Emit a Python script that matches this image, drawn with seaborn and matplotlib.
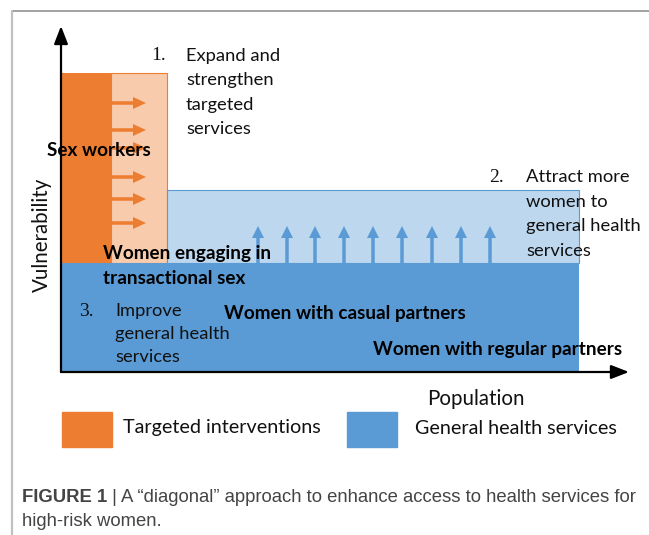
import matplotlib
matplotlib.use("Agg")
import matplotlib.pyplot as plt
import seaborn as sns
from matplotlib.patches import FancyArrow

sns.set_theme(style="white")
plt.rcParams['font.family'] = ['Lato', 'DejaVu Sans']

# ---- data (diagram units: 1 unit ~ 1 px from the axes origin) ----
block_names = ["Sex workers", "Transactional sex", "Casual partners", "All women"]
block_left = [1, 50, 106, 1]
block_width = [49, 56, 412, 517]
block_bottom = [109, 109, 109, 0]
block_height = [190, 190, 73, 109]
block_colors = ["#ED7D31", "#F8CBAD", "#BDD7EE", "#5B9BD5"]

orange_arrow_levels = [269, 242, 224, 195, 173, 149]
blue_arrow_positions = [197, 226, 254, 283, 312, 341, 371, 400, 429]

legend_labels = ["Targeted interventions", "General health services"]
legend_colors = ["#ED7D31", "#5B9BD5"]

W, H = 649, 535
fig = plt.figure(figsize=(W / 100, H / 100), dpi=100)
fig.patch.set_facecolor("white")

# frame lines in figure pixel coords
fig.add_artist(plt.Line2D([12 / W, 1], [1 - 11 / H, 1 - 11 / H], color="#9a9a9a", lw=1.3))
fig.add_artist(plt.Line2D([12 / W, 12 / W], [0, 1 - 11 / H], color="#c0c0c0", lw=1.6))

x0, y0 = 61, 372
ax = fig.add_axes([x0 / W, (H - y0) / H, (628 - x0) / W, (y0 - 28) / H])
ax.set_xlim(0, 628 - x0)
ax.set_ylim(0, y0 - 28)
ax.axis("off")

for l, w, b, h, c in zip(block_left, block_width, block_bottom, block_height, block_colors):
    ec = {"#F8CBAD": "#ED7D31", "#BDD7EE": "#5B9BD5"}.get(c, c)
    ax.bar(l, h, width=w, bottom=b, align="edge", color=c, edgecolor=ec,
           linewidth=0.8 if ec != c else 0, zorder=1)
# redraw the dark orange on top of the light-orange edge
ax.bar(block_left[0], block_height[0], width=block_width[0], bottom=block_bottom[0],
       align="edge", color=block_colors[0], linewidth=0, zorder=1.5)

for yv in orange_arrow_levels:
    ax.add_patch(FancyArrow(50, yv, 35, 0, width=3.5, head_width=12, head_length=13,
                            length_includes_head=True, color="#ED7D31", lw=0, zorder=2))
for xv in blue_arrow_positions:
    ax.add_patch(FancyArrow(xv, 109, 0, 37, width=3.5, head_width=12, head_length=12,
                            length_includes_head=True, color="#5B9BD5", lw=0, zorder=2))

# axes arrows
ax.annotate("", xy=(0, 346), xytext=(0, 0),
            arrowprops=dict(arrowstyle="-|>,head_length=0.9,head_width=0.35", color="black", lw=1.6,
                            shrinkA=0, shrinkB=0), annotation_clip=False, zorder=5)
ax.annotate("", xy=(568, 0), xytext=(0, 0),
            arrowprops=dict(arrowstyle="-|>,head_length=0.9,head_width=0.35", color="black", lw=1.6,
                            shrinkA=0, shrinkB=0), annotation_clip=False, zorder=5)


def ftext(px, py, s, **kw):
    fig.text(px / W, 1 - py / H, s, **kw)


fs = 13.2
serif = dict(family=["Liberation Serif"], fontsize=14, va="center", color="#111111")
reg = dict(fontsize=fs, va="center", color="#111111")
bold = dict(fontsize=13.6, va="center", fontweight="bold", color="black")

ftext(151, 56, "1.", **serif)
for i, s in enumerate(["Expand and", "strengthen", "targeted", "services"]):
    ftext(186, 56 + 24.3 * i, s, **reg)
ftext(489, 177, "2.", **serif)
for i, s in enumerate(["Attract more", "women to", "general health", "services"]):
    ftext(526, 177 + 24.7 * i, s, **reg)
ftext(79, 311, "3.", **serif)
for i, s in enumerate(["Improve", "general health", "services"]):
    ftext(115, 311 + 23 * i, s, **reg)

ftext(47, 150, "Sex workers", **bold)
ftext(103, 254, "Women engaging in", **bold)
ftext(103, 279, "transactional sex", **bold)
ftext(224, 313, "Women with casual partners", **bold)
ftext(373, 350, "Women with regular partners", **bold)

ftext(42, 235, "Vulnerability", rotation=90, ha="center", fontsize=14.8, va="center", color="#111111")
ftext(476, 399, "Population", ha="center", fontsize=14.8, va="center", color="#111111")

# legend
for (lx, lab, col, tx) in [(62, legend_labels[0], legend_colors[0], 123),
                           (347, legend_labels[1], legend_colors[1], 415)]:
    fig.add_artist(plt.Rectangle((lx / W, 1 - 447 / H), 50 / W, 35 / H, color=col,
                                 transform=fig.transFigure))
    ftext(tx, 428, lab, fontsize=14.2, va="center", color="#111111")

# caption
cap_kw = dict(fontsize=13.3, va="center", color="#444444",
              family=["Liberation Sans", "DejaVu Sans"])
t1 = fig.text(22 / W, 1 - 497 / H, "FIGURE 1", fontweight="bold", **cap_kw)
fig.canvas.draw()
bb = t1.get_window_extent()
fig.text(bb.x1 / W, 1 - 497 / H, " | A \u201cdiagonal\u201d approach to enhance access to health services for",
         **cap_kw)
ftext(22, 521, "high-risk women.", **cap_kw)

fig.savefig("out.png", dpi=100, facecolor="white")
